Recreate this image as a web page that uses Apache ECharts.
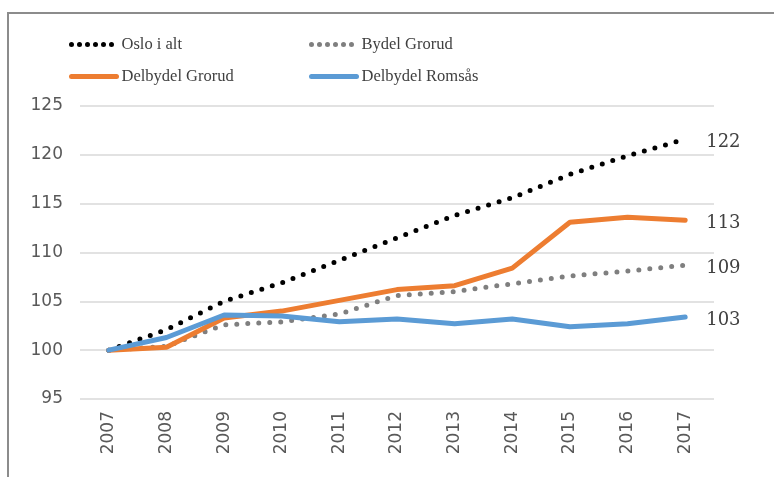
<!DOCTYPE html>
<html>
<head>
<meta charset="utf-8">
<script src="https://cdn.jsdelivr.net/npm/echarts@6/dist/echarts.min.js"></script>
<style>
  html, body { margin: 0; padding: 0; background: #fff; }
  #chart { width: 774px; height: 477px; }
</style>
</head>
<body>
<div id="chart"></div>
<script>
// 数据
const years = ['2007', '2008', '2009', '2010', '2011', '2012', '2013', '2014', '2015', '2016', '2017'];
const osloIAlt = [100, 102.1, 105.0, 106.9, 109.2, 111.5, 113.8, 115.6, 118.0, 119.9, 121.6];
const bydelGrorud = [100, 100.4, 102.6, 102.9, 103.7, 105.6, 106.0, 106.8, 107.6, 108.1, 108.7];
const delbydelGrorud = [100, 100.3, 103.3, 104.0, 105.1, 106.2, 106.6, 108.4, 113.1, 113.6, 113.3];
const delbydelRomsas = [100, 101.3, 103.6, 103.5, 102.9, 103.2, 102.7, 103.2, 102.4, 102.7, 103.4];

const axisFont = 'DejaVu Sans';
const serifFont = 'DejaVu Serif';
const legendFont = 'Liberation Serif';

window.addEventListener('DOMContentLoaded', function() {
    const myChart = echarts.init(document.getElementById('chart'));

    // 末端数值标签
    function endLabel() {
        return {
            show: true,
            distance: 21,
            offset: [0, 3],
            fontFamily: serifFont,
            fontSize: 18,
            color: '#404040',
            formatter: p => Math.round(p.value).toString()
        };
    }

    const dotted = (color) => ({ color: color, width: 5, type: [0, 11], cap: 'round' });
    const solid = (color) => ({ color: color, width: 5, type: 'solid', cap: 'round' });

    const legendBase = {
        orient: 'vertical',
        top: 31,
        itemWidth: 45,
        itemHeight: 16,
        itemGap: 15,
        itemStyle: { opacity: 0 },
        textStyle: { fontFamily: legendFont, fontSize: 16.5, color: '#404040' }
    };

    const option = {
        animation: false,
        graphic: [
            {
                type: 'rect',
                shape: { x: 8, y: 13, width: 820, height: 520 },
                style: { fill: 'none', stroke: '#8c8c8c', lineWidth: 2 },
                silent: true
            }
        ],
        legend: [
            Object.assign({}, legendBase, {
                left: 64,
                data: [
                    { name: 'Oslo i alt', lineStyle: { color: '#000000', width: 5, type: [0, 8], cap: 'round' } },
                    { name: 'Delbydel Grorud', lineStyle: solid('#ed7d31') }
                ]
            }),
            Object.assign({}, legendBase, {
                left: 304,
                data: [
                    { name: 'Bydel Grorud', lineStyle: { color: '#7f7f7f', width: 5, type: [0, 8], cap: 'round' } },
                    { name: 'Delbydel Romsås', lineStyle: solid('#5b9bd5') }
                ]
            })
        ],
        grid: {
            left: 80,
            right: 60,
            top: 106,
            bottom: 78
        },
        xAxis: {
            type: 'category',
            data: years,
            boundaryGap: true,
            axisLine: { show: false },
            axisTick: { show: false },
            axisLabel: {
                rotate: 90,
                margin: 12,
                fontFamily: axisFont,
                fontSize: 17,
                color: '#595959'
            }
        },
        yAxis: {
            type: 'value',
            min: 95,
            max: 125,
            interval: 5,
            axisLine: { show: false },
            axisTick: { show: false },
            axisLabel: {
                margin: 17,
                fontFamily: axisFont,
                fontSize: 17,
                color: '#595959'
            },
            splitLine: { lineStyle: { color: '#d9d9d9', width: 1.5 } }
        },
        series: [
            {
                name: 'Oslo i alt',
                type: 'line',
                data: osloIAlt,
                symbol: 'none',
                lineStyle: dotted('#000000'),
                itemStyle: { color: '#000000' },
                endLabel: endLabel()
            },
            {
                name: 'Bydel Grorud',
                type: 'line',
                data: bydelGrorud,
                symbol: 'none',
                lineStyle: dotted('#7f7f7f'),
                itemStyle: { color: '#7f7f7f' },
                endLabel: endLabel()
            },
            {
                name: 'Delbydel Grorud',
                type: 'line',
                data: delbydelGrorud,
                symbol: 'none',
                lineStyle: solid('#ed7d31'),
                itemStyle: { color: '#ed7d31' },
                endLabel: endLabel()
            },
            {
                name: 'Delbydel Romsås',
                type: 'line',
                data: delbydelRomsas,
                symbol: 'none',
                lineStyle: solid('#5b9bd5'),
                itemStyle: { color: '#5b9bd5' },
                endLabel: endLabel()
            }
        ]
    };

    myChart.setOption(option);
    window.addEventListener('resize', () => myChart.resize());
});
</script>
</body>
</html>
